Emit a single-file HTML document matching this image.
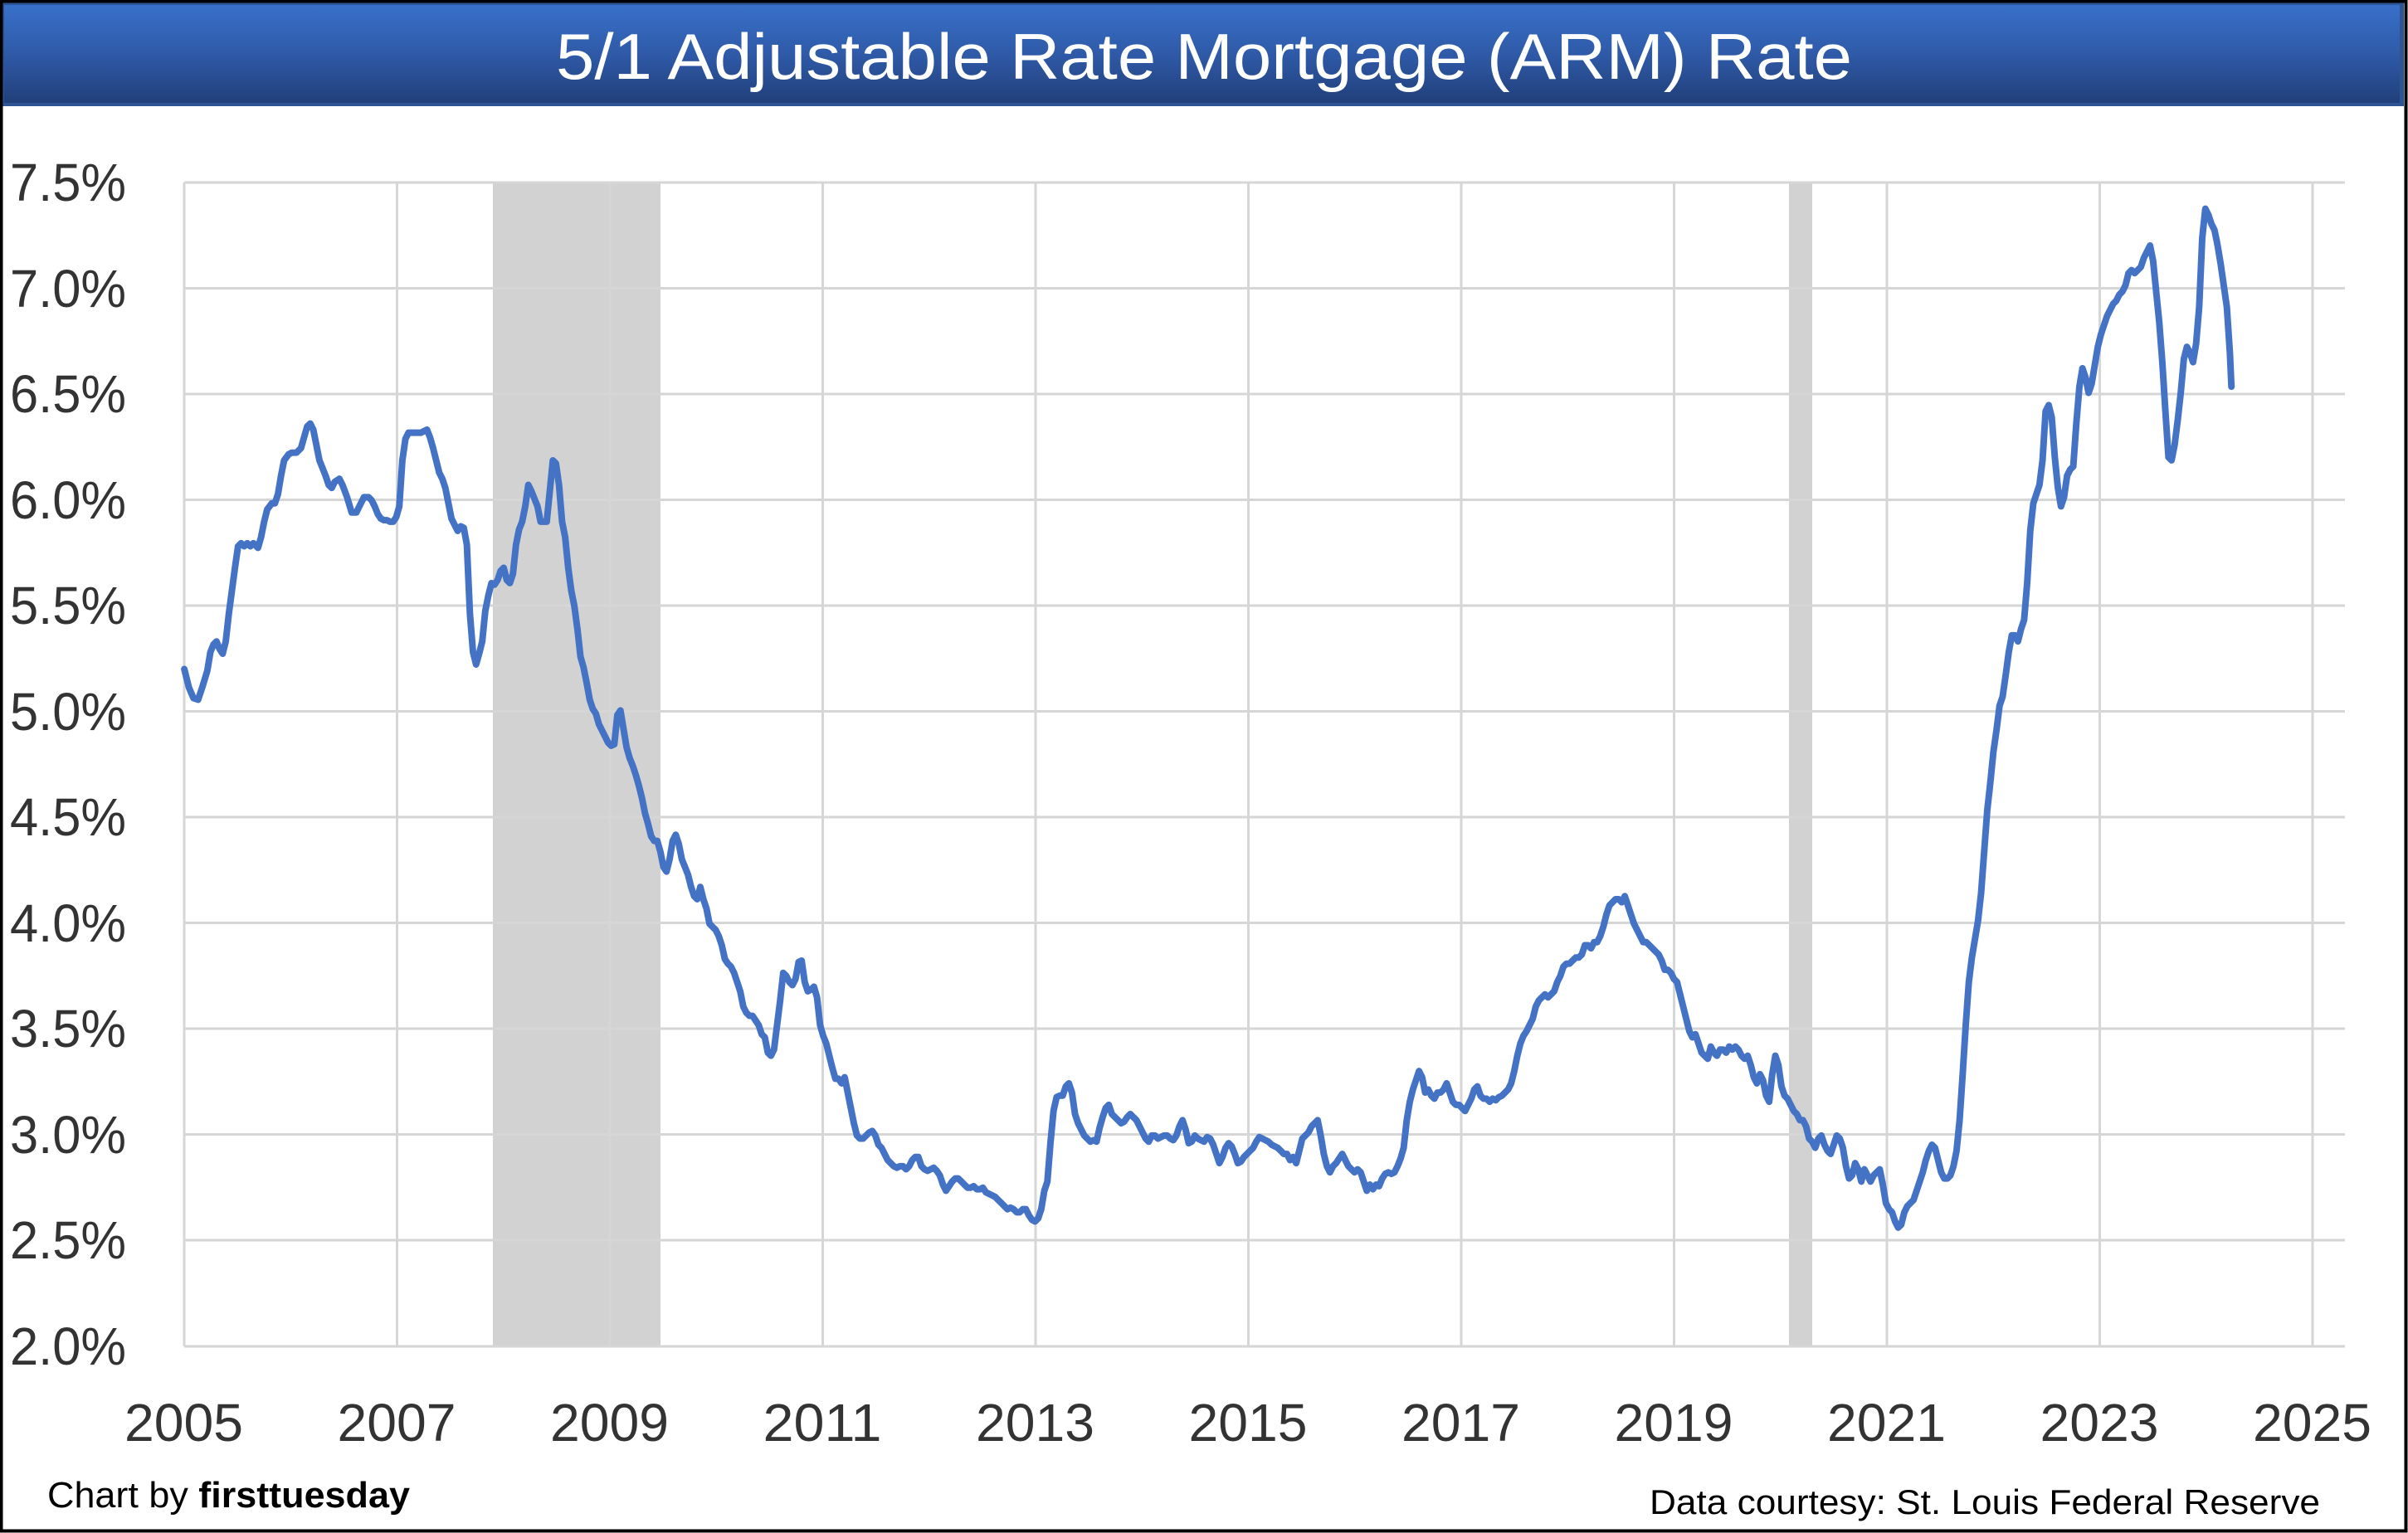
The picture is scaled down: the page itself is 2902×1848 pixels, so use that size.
<!DOCTYPE html>
<html><head><meta charset="utf-8"><style>html,body{margin:0;padding:0;background:#fff}svg{display:block}</style></head>
<body>
<svg width="2902" height="1848" viewBox="0 0 2902 1848" xmlns="http://www.w3.org/2000/svg">
<defs><linearGradient id="tg" x1="0" y1="0" x2="0" y2="1"><stop offset="0" stop-color="#3870c9"/><stop offset="0.5" stop-color="#2f5aa8"/><stop offset="1" stop-color="#213f7a"/></linearGradient></defs>
<rect x="0" y="0" width="2902" height="1848" fill="#fff"/>
<rect x="2" y="2" width="2895" height="126" fill="#2e5496"/>
<rect x="5" y="6" width="2887" height="118" fill="url(#tg)"/>
<text x="1451" y="95" text-anchor="middle" font-family="Liberation Sans, sans-serif" font-size="78" fill="#fff" textLength="1562" lengthAdjust="spacingAndGlyphs">5/1 Adjustable Rate Mortgage (ARM) Rate</text>
<rect x="594" y="220" width="202" height="1403" fill="#d2d2d2"/>
<rect x="2156" y="220" width="28" height="1403" fill="#d2d2d2"/>
<g stroke="#d6d6d6" stroke-width="3">
<line x1="222" y1="220" x2="2826" y2="220"/><line x1="222" y1="347.5" x2="2826" y2="347.5"/><line x1="222" y1="475" x2="2826" y2="475"/><line x1="222" y1="602.5" x2="2826" y2="602.5"/><line x1="222" y1="730" x2="2826" y2="730"/><line x1="222" y1="857.5" x2="2826" y2="857.5"/><line x1="222" y1="985" x2="2826" y2="985"/><line x1="222" y1="1112.5" x2="2826" y2="1112.5"/><line x1="222" y1="1240" x2="2826" y2="1240"/><line x1="222" y1="1367.5" x2="2826" y2="1367.5"/><line x1="222" y1="1495" x2="2826" y2="1495"/><line x1="222" y1="1623" x2="2826" y2="1623"/>
<line x1="222" y1="220" x2="222" y2="1623"/><line x1="478.5" y1="220" x2="478.5" y2="1623"/><line x1="735" y1="220" x2="735" y2="1623"/><line x1="991.5" y1="220" x2="991.5" y2="1623"/><line x1="1248" y1="220" x2="1248" y2="1623"/><line x1="1504.5" y1="220" x2="1504.5" y2="1623"/><line x1="1761" y1="220" x2="1761" y2="1623"/><line x1="2017.5" y1="220" x2="2017.5" y2="1623"/><line x1="2274" y1="220" x2="2274" y2="1623"/><line x1="2530.5" y1="220" x2="2530.5" y2="1623"/><line x1="2787" y1="220" x2="2787" y2="1623"/>
</g>
<g font-family="Liberation Sans, sans-serif" font-size="64" fill="#333" lengthAdjust="spacingAndGlyphs">
<text x="12" y="242" textLength="140" lengthAdjust="spacingAndGlyphs">7.5%</text><text x="12" y="370" textLength="140" lengthAdjust="spacingAndGlyphs">7.0%</text><text x="12" y="497" textLength="140" lengthAdjust="spacingAndGlyphs">6.5%</text><text x="12" y="625" textLength="140" lengthAdjust="spacingAndGlyphs">6.0%</text><text x="12" y="752" textLength="140" lengthAdjust="spacingAndGlyphs">5.5%</text><text x="12" y="880" textLength="140" lengthAdjust="spacingAndGlyphs">5.0%</text><text x="12" y="1007" textLength="140" lengthAdjust="spacingAndGlyphs">4.5%</text><text x="12" y="1135" textLength="140" lengthAdjust="spacingAndGlyphs">4.0%</text><text x="12" y="1262" textLength="140" lengthAdjust="spacingAndGlyphs">3.5%</text><text x="12" y="1390" textLength="140" lengthAdjust="spacingAndGlyphs">3.0%</text><text x="12" y="1517" textLength="140" lengthAdjust="spacingAndGlyphs">2.5%</text><text x="12" y="1645" textLength="140" lengthAdjust="spacingAndGlyphs">2.0%</text>
</g>
<g font-family="Liberation Sans, sans-serif" font-size="64" fill="#333">
<text x="150" y="1737" textLength="143" lengthAdjust="spacingAndGlyphs">2005</text><text x="406.5" y="1737" textLength="143" lengthAdjust="spacingAndGlyphs">2007</text><text x="663" y="1737" textLength="143" lengthAdjust="spacingAndGlyphs">2009</text><text x="919.5" y="1737" textLength="143" lengthAdjust="spacingAndGlyphs">2011</text><text x="1176" y="1737" textLength="143" lengthAdjust="spacingAndGlyphs">2013</text><text x="1432.5" y="1737" textLength="143" lengthAdjust="spacingAndGlyphs">2015</text><text x="1689" y="1737" textLength="143" lengthAdjust="spacingAndGlyphs">2017</text><text x="1945.5" y="1737" textLength="143" lengthAdjust="spacingAndGlyphs">2019</text><text x="2202" y="1737" textLength="143" lengthAdjust="spacingAndGlyphs">2021</text><text x="2458.5" y="1737" textLength="143" lengthAdjust="spacingAndGlyphs">2023</text><text x="2715" y="1737" textLength="143" lengthAdjust="spacingAndGlyphs">2025</text>
</g>
<g transform="scale(1.8508,1.8498)">
<polyline fill="none" stroke="#4472c4" stroke-width="4.3" stroke-linejoin="round" stroke-linecap="round" points="120,436 123,448 126,455 129,456 132,447 135,437 137,425 139,420 141,418 143,423 145,426 147,418 149,400 151,385 153,370 155,356 157,354 159,356 161,354 163,356 165,354 168,357 170,350 172,340 174,332 177,328 179,328 181,322 183,310 185,300 188,296 190,295 193,295 196,292 198,285 200,278 202,276 204,280 206,290 208,300 210,305 212,310 214,316 216,318 218,314 221,312 223,316 226,324 229,334 232,334 235,328 237,324 240,324 242,326 244,330 246,335 248,338 250,339 252,339 254,340 256,340 258,337 260,330 262,300 264,286 266,282 268,282 270,282 272,282 274,282 276,281 278,280 280,285 282,292 284,300 286,308 288,312 290,318 292,328 294,338 296,342 298,346 300,343 302,344 304,355 306,400 308,425 310,433 312,426 314,418 316,398 318,388 320,380 322,381 324,378 326,372 328,370 330,378 332,380 334,374 336,355 338,345 340,340 342,330 344,316 346,320 348,325 350,330 352,340 354,340 356,340 358,320 360,300 362,302 364,316 366,340 368,350 370,370 372,385 374,395 376,410 378,428 380,435 382,445 384,456 386,462 388,465 390,472 392,476 394,480 396,484 398,486 400,485 402,466 404,463 406,475 408,487 410,494 412,499 414,505 416,512 418,520 420,530 422,537 424,545 426,548 428,548 430,555 432,565 434,568 436,560 438,548 440,544 442,550 444,560 446,565 448,570 450,578 452,584 454,586 456,578 458,586 460,592 462,602 464,604 466,606 468,610 470,616 472,625 474,628 476,630 478,634 480,640 482,646 484,656 486,660 488,662 490,662 492,665 494,668 496,674 498,676 500,686 502,688 504,684 506,668 508,652 510,634 512,636 514,640 516,642 518,638 520,627 522,626 524,640 526,646 528,645 530,643 532,650 534,668 536,675 538,680 540,688 542,696 544,703 546,703 548,706 550,702 552,712 554,722 556,732 558,740 560,742 562,742 564,740 566,738 568,737 570,740 572,746 574,748 576,752 578,756 580,758 582,760 584,761 586,760 588,760 590,762 592,760 594,756 596,754 598,754 600,760 602,762 604,763 606,762 608,761 610,763 612,766 614,772 616,776 618,773 620,770 622,768 624,768 626,770 628,772 630,774 632,774 634,773 636,775 638,775 640,774 642,777 644,778 646,779 648,780 650,782 652,784 654,786 656,788 658,787 660,788 662,790 664,790 666,788 668,788 670,792 672,795 674,796 676,794 678,788 680,776 682,770 684,745 686,724 688,715 690,714 692,714 694,708 696,706 698,712 700,726 702,732 704,736 706,740 708,742 710,744 712,743 714,744 716,735 718,728 720,722 722,720 724,726 726,728 728,730 730,732 732,731 734,728 736,726 738,728 740,730 742,734 744,738 746,742 748,744 750,740 752,740 754,742 756,741 758,740 760,740 762,742 764,743 766,740 768,734 770,730 772,736 774,745 776,744 778,740 780,742 782,743 784,744 786,741 788,742 790,746 792,752 794,758 796,754 798,748 800,745 802,747 804,752 806,758 808,757 810,754 812,752 814,750 816,748 818,744 820,741 822,742 824,743 826,744 828,746 830,747 832,748 834,750 836,752 838,752 840,756 842,754 844,758 846,750 848,742 850,740 852,738 854,734 856,732 858,730 860,740 862,752 864,760 866,764 868,760 870,758 872,755 874,752 876,756 878,760 880,762 882,764 884,762 886,764 888,770 890,776 892,772 894,775 896,772 898,773 900,768 902,765 904,764 906,765 908,764 910,760 912,755 914,748 916,730 918,718 920,710 922,704 924,698 926,702 928,712 930,710 932,714 934,716 936,712 938,712 940,710 942,706 944,712 946,718 948,720 950,720 952,722 954,724 956,720 958,716 960,710 962,708 964,714 966,716 968,716 970,718 972,716 974,717 976,715 978,714 980,712 982,710 984,706 986,698 988,688 990,680 992,675 994,672 996,668 998,664 1000,656 1002,652 1004,650 1006,648 1008,650 1010,648 1012,646 1014,640 1016,636 1018,630 1020,628 1022,628 1024,626 1026,624 1028,624 1030,622 1032,616 1034,616 1036,618 1038,614 1040,614 1042,610 1044,604 1046,596 1048,590 1050,588 1052,586 1054,586 1056,588 1058,584 1060,590 1062,596 1064,602 1066,606 1068,610 1070,614 1072,614 1074,616 1076,618 1078,620 1080,622 1082,626 1084,632 1086,632 1088,634 1090,638 1092,640 1094,648 1096,656 1098,664 1100,672 1102,676 1104,674 1106,680 1108,686 1110,688 1112,690 1114,682 1116,686 1118,688 1120,684 1122,684 1124,686 1126,682 1128,684 1130,682 1132,684 1134,688 1136,690 1138,688 1140,694 1142,702 1144,706 1146,700 1148,704 1150,714 1152,718 1154,700 1156,688 1158,694 1160,708 1162,714 1164,716 1166,720 1168,724 1170,726 1172,730 1174,730 1176,734 1178,742 1180,744 1182,748 1184,742 1186,740 1188,746 1190,750 1192,752 1194,746 1196,740 1198,742 1200,748 1202,760 1204,768 1206,766 1208,758 1210,762 1212,770 1214,762 1216,766 1218,770 1220,766 1222,764 1224,762 1226,772 1228,784 1230,788 1232,790 1234,796 1236,800 1238,798 1240,790 1242,786 1244,784 1246,782 1248,776 1250,770 1252,764 1254,756 1256,750 1258,746 1260,748 1262,756 1264,764 1266,768 1268,768 1270,766 1272,760 1274,750 1276,730 1278,700 1280,668 1282,640 1284,624 1286,612 1288,600 1290,582 1292,555 1294,528 1296,510 1298,490 1300,476 1302,460 1304,454 1306,440 1308,425 1310,414 1312,414 1314,418 1316,410 1318,404 1320,380 1322,346 1324,328 1326,322 1328,316 1330,300 1332,268 1334,264 1336,272 1338,298 1340,318 1342,330 1344,324 1346,310 1348,306 1350,304 1352,276 1354,252 1356,240 1358,246 1360,256 1362,250 1364,238 1366,226 1368,218 1370,212 1372,206 1374,202 1376,198 1378,196 1380,192 1382,190 1384,186 1386,178 1388,176 1390,178 1392,176 1394,174 1396,168 1398,164 1400,160 1402,170 1404,190 1406,210 1408,236 1410,268 1412,298 1414,300 1416,290 1418,274 1420,256 1422,234 1424,226 1426,230 1428,236 1430,224 1432,200 1434,155 1436,136 1438,140 1440,146 1442,150 1444,160 1446,172 1448,186 1450,200 1452,230 1453,252"/>
</g>
<text x="57" y="1817" font-family="Liberation Sans, sans-serif" font-size="44" fill="#000" textLength="437" lengthAdjust="spacingAndGlyphs">Chart by  <tspan font-weight="bold">firsttuesday</tspan></text>
<text x="1988" y="1825" font-family="Liberation Sans, sans-serif" font-size="42" fill="#000" textLength="808" lengthAdjust="spacingAndGlyphs">Data courtesy: St. Louis Federal Reserve</text>
<rect x="1.5" y="1.5" width="2898" height="1844" fill="none" stroke="#000" stroke-width="4"/>
</svg>
</body></html>
